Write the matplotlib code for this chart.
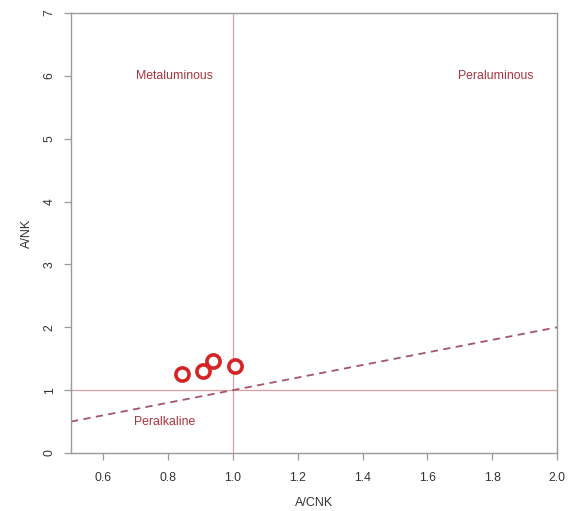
import matplotlib
matplotlib.use("Agg")
import matplotlib.pyplot as plt

plt.rcParams['font.family'] = ['Liberation Sans', 'DejaVu Sans']

# Sample compositions
a_cnk = [0.843, 0.907, 0.938, 1.007]
a_nk = [1.25, 1.305, 1.468, 1.39]

x_ticks = [0.6, 0.8, 1.0, 1.2, 1.4, 1.6, 1.8, 2.0]
x_tick_labels = ["0.6", "0.8", "1.0", "1.2", "1.4", "1.6", "1.8", "2.0"]
y_ticks = [0, 1, 2, 3, 4, 5, 6, 7]

# Field boundaries
boundary_x = [0.5, 2.0]
boundary_y = [0.5, 2.0]

fig = plt.figure(figsize=(5.74, 5.11), dpi=100)
ax = fig.add_axes([0.1237, 0.1135, 0.8467, 0.861])
ax.set_xlim(0.5, 2.0)
ax.set_ylim(0, 7)

ax.axvline(1.0, color="#dc9ea2", lw=0.9, zorder=1)
ax.axhline(1.0, color="#dc9ea2", lw=0.9, zorder=1)
ax.plot(boundary_x, boundary_y, color="#a45566", lw=1.3, ls=(0, (4, 3)), zorder=2)

ax.plot(a_cnk, a_nk, ls="none", marker="o", ms=9.5, mfc="white",
        mec="#d42526", mew=2.6, zorder=3)

label_color = "#a8343f"
ax.text(0.82, 6.0, "Metaluminous", color=label_color, fontsize=8.8,
        ha="center", va="center")
ax.text(1.81, 6.0, "Peraluminous", color=label_color, fontsize=8.8,
        ha="center", va="center")
ax.text(0.79, 0.5, "Peralkaline", color=label_color, fontsize=8.8,
        ha="center", va="center")

for s in ax.spines.values():
    s.set_color("#9a9a9a")
    s.set_linewidth(1.0)

ax.set_xticks(x_ticks)
ax.set_xticklabels(x_tick_labels)
ax.set_yticks(y_ticks)
ax.set_yticklabels([str(v) for v in y_ticks], rotation=90, va="center")
ax.tick_params(axis="both", direction="out", length=5, width=0.9,
               color="#9a9a9a", labelcolor="#333333", labelsize=8.8)
ax.tick_params(axis="x", pad=9)
ax.tick_params(axis="y", pad=6)

ax.set_xlabel("A/CNK", fontsize=9, color="#333333", labelpad=9)
ax.set_ylabel("A/NK", fontsize=9, color="#333333", labelpad=8)

fig.savefig("out.png", dpi=100)
